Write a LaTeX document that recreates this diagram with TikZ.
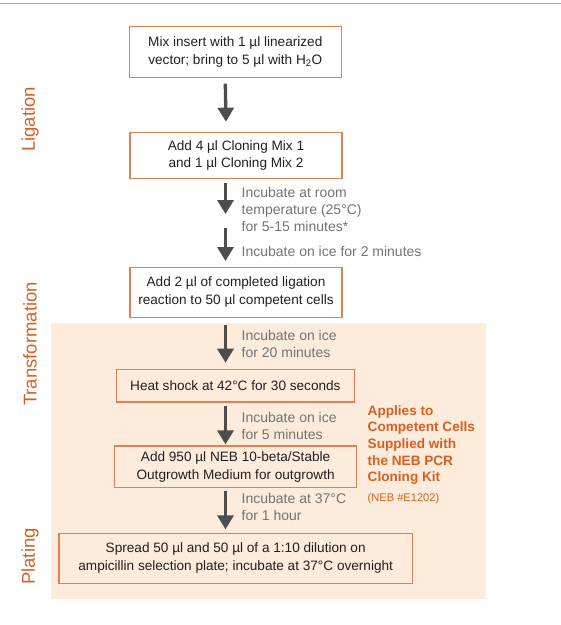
\documentclass[tikz,border=0pt]{standalone}
\usepackage{fontspec}
\setmainfont{Liberation Sans}
\usetikzlibrary{arrows.meta}
\definecolor{nebor}{RGB}{214,96,36}   % orange text
\definecolor{boxor}{RGB}{226,128,84}  % box border
\definecolor{peach}{RGB}{253,235,220} % shaded area
\definecolor{arrgray}{RGB}{77,77,77}
\definecolor{txtgray}{RGB}{115,115,115}
\definecolor{txtdark}{RGB}{35,31,32}
\begin{document}
\begin{tikzpicture}[x=1pt,y=-1pt] % координаты в пикселях, y вниз
\tikzstyle{stepbox} = [draw=boxor, line width=1.3pt, inner sep=0pt, align=center, text=txtdark, font=\fontsize{13.6}{17.7}\selectfont] % box style
\tikzstyle{flow} = [draw=arrgray, line width=3.3pt, -{Triangle[width=16pt,length=14pt]}] % стрелка
\tikzstyle{note} = [anchor=west, inner sep=0pt, align=left, text=txtgray, font=\fontsize{14}{17.2}\selectfont] % gray label
\tikzstyle{phase} = [rotate=90, inner sep=0pt, text=nebor, font=\fontsize{18.5}{20}\selectfont] % side label
\useasboundingbox (0,0) rectangle (561,625);
\fill[peach] (50.7,322.7) rectangle (485.7,599); % область трансформации
\draw[gray!70, line width=1.5pt] (0,3.5) -- (561,3.5);
% шаги
\node[stepbox, minimum width=212pt, minimum height=50.6pt] (mix) at (235.3,52) {Mix insert with 1 µl linearized\\vector; bring to 5 µl with H\textsubscript{2}O};
\node[stepbox, minimum width=212pt, minimum height=46.4pt] (clon) at (236,155.5) {Add 4 µl Cloning Mix 1\\and 1 µl Cloning Mix 2};
\node[stepbox, minimum width=212pt, minimum height=50pt] (lig) at (236,292.3) {Add 2 µl of completed ligation\\reaction to 50 µl competent cells};
\node[stepbox, minimum width=237.6pt, minimum height=32.7pt] (heat) at (235.4,385.7) {Heat shock at 42°C for 30 seconds};
\node[stepbox, minimum width=242.2pt, minimum height=41.3pt] (grow) at (235.6,466.7) {Add 950 µl NEB 10-beta/Stable\\Outgrowth Medium for outgrowth};
\node[stepbox, minimum width=353.3pt, minimum height=50pt] (spread) at (235.7,558.3) {Spread 50 µl and 50 µl of a 1:10 dilution on\\ampicillin selection plate; incubate at 37°C overnight};
\coordinate (gap) at (225.5,221);
% стрелки
\draw[flow] ([xshift=-10pt,yshift=-5.7pt]mix.south) -- ([xshift=-10pt,yshift=10pt]clon.north);
\draw[flow] ([xshift=-10.5pt,yshift=-4pt]clon.south) -- ([yshift=7pt]gap);
\draw[flow] ([yshift=-7.3pt]gap) -- ([xshift=-10.5pt,yshift=5.6pt]lig.north);
\draw[flow] ([xshift=-10.5pt,yshift=-6.7pt]lig.south) -- ([xshift=-9.9pt,yshift=6pt]heat.north);
\draw[flow] ([xshift=-9.9pt,yshift=-3.7pt]heat.south) -- ([xshift=-10.1pt,yshift=1pt]grow.north);
\draw[flow] ([xshift=-10.1pt,yshift=-2.7pt]grow.south) -- ([xshift=-10.2pt,yshift=3.3pt]spread.north);
% подписи
\node[note] (n1) at (241.5,209.5) {Incubate at room\\temperature (25°C)\\for 5-15 minutes*};
\node[note] (n2) at (241.5,251) {Incubate on ice for 2 minutes};
\node[note] (n3) at (241.5,343.7) {Incubate on ice\\for 20 minutes};
\node[note] (n4) at (241.5,425.8) {Incubate on ice\\for 5 minutes};
\node[note] (n5) at (241.5,506.7) {Incubate at 37°C\\for 1 hour};
\node[anchor=west, inner sep=0pt, align=left, text=nebor, font=\fontsize{13.6}{16.7}\selectfont\bfseries] (kit) at (367.5,445) {Applies to\\Competent Cells\\Supplied with\\the NEB PCR\\Cloning Kit};
\node[anchor=west, inner sep=0pt, text=nebor, font=\fontsize{11.1}{13}\selectfont] (cat) at (367.5,498.3) {(NEB \#E1202)};
% этапы
\node[phase] (ph1) at (30,119.5) {Ligation};
\node[phase] (ph2) at (30,344) {Transformation};
\node[phase] (ph3) at (30,556.5) {Plating};
\end{tikzpicture}
\end{document}
